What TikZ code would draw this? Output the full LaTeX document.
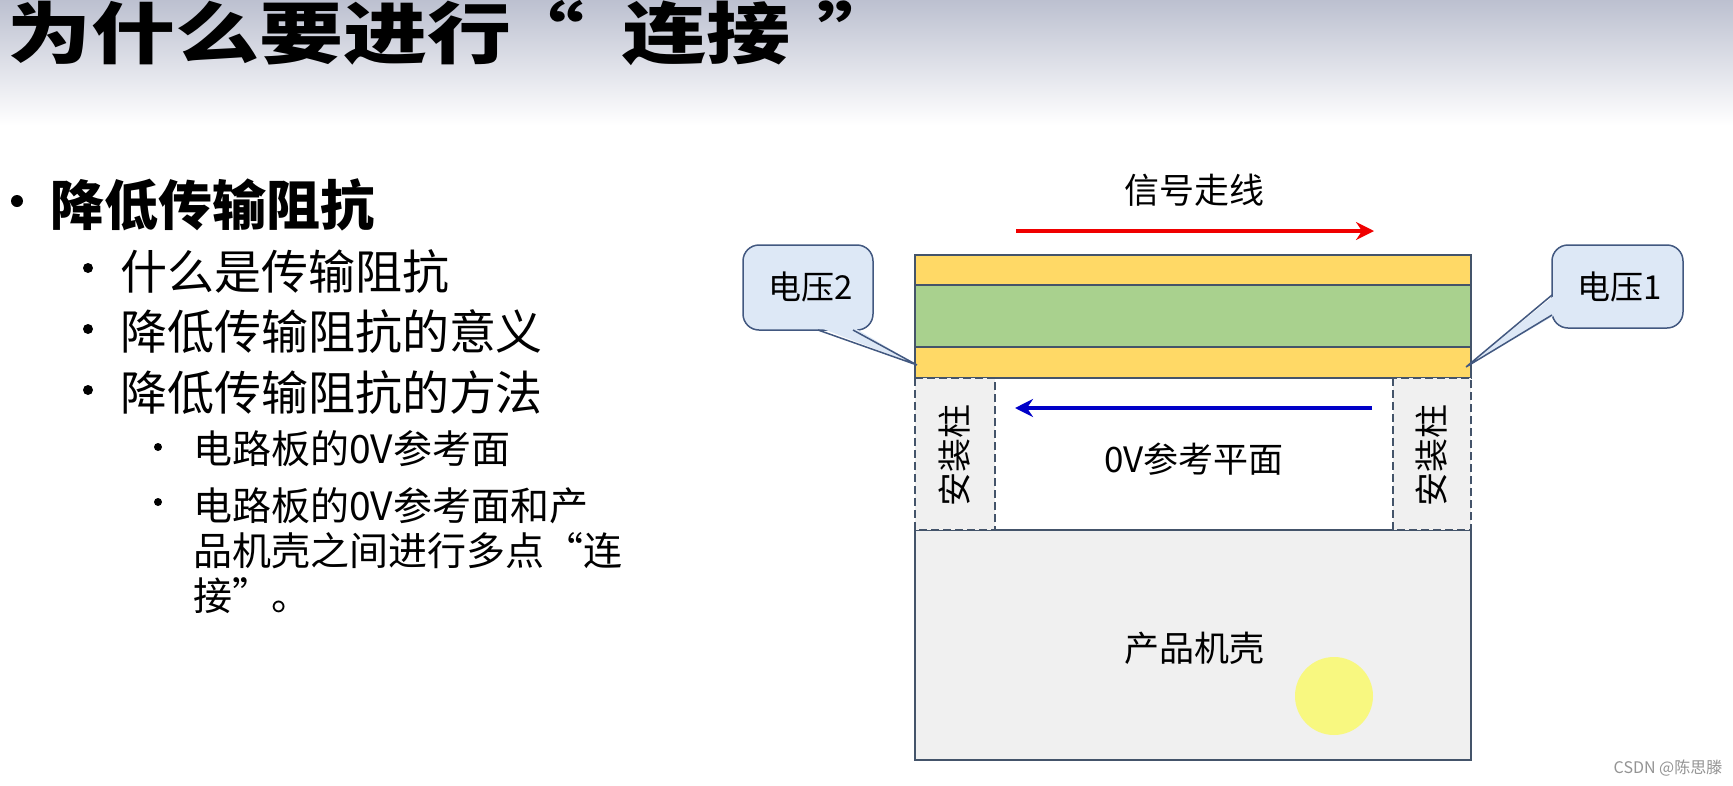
\documentclass[tikz,border=0pt]{standalone}
\usepackage{fontspec}
\setmainfont{Noto Sans CJK SC}
\usetikzlibrary{arrows.meta}
\definecolor{edgec}{RGB}{68,84,106}
\definecolor{layery}{RGB}{255,217,102}
\definecolor{layerg}{RGB}{169,209,142}
\definecolor{shell}{RGB}{240,240,240}
\definecolor{callfill}{RGB}{221,232,246}
\definecolor{callborder}{RGB}{66,88,128}
\definecolor{topgrad}{RGB}{188,192,208}
\definecolor{hilite}{RGB}{248,248,128}
\definecolor{sigred}{RGB}{240,0,0}
\definecolor{retblue}{RGB}{0,0,200}
\tikzset{
  txt/.style={inner sep=0pt, outer sep=0pt},
  layer/.style={draw=edgec, line width=1.8pt},
  post/.style={draw=edgec, dash pattern=on 8pt off 4pt, line width=1.2pt, fill=shell},
  callbox/.style={draw=callborder, line width=1.5pt, fill=callfill, rounded corners=16pt},
  calltail/.style={draw=callborder, line width=1.5pt, line join=miter},
  sig/.style={line width=4pt, -{Stealth[length=18pt,width=18pt,inset=6pt]}},
  titlef/.style={txt, anchor=base west, font=\fontsize{84}{90}\selectfont\bfseries},
}
\begin{document}
\begin{tikzpicture}[x=1pt,y=-1pt]
\useasboundingbox (0,0) rectangle (1733,785);
\fill[white] (0,0) rectangle (1733,785);
\shade[top color=topgrad, bottom color=white] (0,0) rectangle (1733,125);

% title
\node[titlef] (t1) at (8,58) {\scalebox{1}[0.8]{为什么要进行}};
\node[titlef] (t2) at (500,58) {\scalebox{1}[0.8]{“}};
\node[titlef] (t3) at (622,58) {\scalebox{1}[0.8]{连接}};
\node[titlef] (t4) at (817,58) {\scalebox{1}[0.8]{”}};

% bullets
\fill (17,201) circle (6);
\node[txt, anchor=west, font=\fontsize{54}{60}\selectfont\bfseries] (b1) at (50,205) {降低传输阻抗};
\fill (88,268) circle (5);
\fill (88,329) circle (5);
\fill (88,390) circle (5);
\node[txt, anchor=west, font=\fontsize{47}{54}\selectfont] (b2) at (120,272) {什么是传输阻抗};
\node[txt, anchor=west, font=\fontsize{47}{54}\selectfont] (b3) at (120,332) {降低传输阻抗的意义};
\node[txt, anchor=west, font=\fontsize{47}{54}\selectfont] (b4) at (120,393) {降低传输阻抗的方法};
\fill (158,447) circle (4);
\fill (158,502) circle (4);
\node[txt, anchor=west, font=\fontsize{39}{46}\selectfont] (c1) at (193,449) {电路板的0V参考面};
\node[txt, anchor=west, font=\fontsize{39}{46}\selectfont] (c2) at (193,506) {电路板的0V参考面和产};
\node[txt, anchor=west, font=\fontsize{39}{46}\selectfont] (c3) at (193,551) {品机壳之间进行多点“连};
\node[txt, anchor=west, font=\fontsize{39}{46}\selectfont] (c4) at (193,596) {接”。};

% board layers
\path[layer, fill=layery] (915,255) rectangle (1471,285);
\path[layer, fill=layerg] (915,285) rectangle (1471,347);
\path[layer, fill=layery] (915,347) rectangle (1471,378);
% shell
\path[layer, fill=shell] (915,530) rectangle (1471,760);
% posts
\path[post] (915,378) rectangle (995,530);
\path[post] (1393,378) rectangle (1471,530);
\draw[edgec, line width=1.8pt] (995,530) -- (1393,530);
\node[txt, rotate=90, font=\fontsize{34}{40}\selectfont] (p1) at (955,455) {安装柱};
\node[txt, rotate=90, font=\fontsize{34}{40}\selectfont] (p2) at (1432,455) {安装柱};

% labels
\node[txt, font=\fontsize{35}{42}\selectfont] (sigl) at (1194,190) {信号走线};
\node[txt, font=\fontsize{35}{42}\selectfont] (ovl) at (1194,459) {0V参考平面};
\node[txt, font=\fontsize{35}{42}\selectfont] (shl) at (1194,648) {产品机壳};

% arrows
\coordinate (r1) at (1016,231);
\coordinate (r2) at (1374,231);
\coordinate (u1) at (1372,408);
\coordinate (u2) at (1015,408);
\draw[sig, sigred] (r1) -- (r2);
\draw[sig, retblue] (u1) -- (u2);

% callout 2 (left)
\coordinate (tip2) at (917,365);
\coordinate (a2) at (818,330);
\coordinate (b2) at (853,330);
\path[callbox] (743,245) rectangle (873,330);
\fill[callfill] (818,327) -- (tip2) -- (853,327) -- cycle;
\draw[calltail] (a2) -- (tip2) -- (b2);
\node[txt, font=\fontsize{33}{40}\selectfont] (v2) at (811,287) {电压2};

% callout 1 (right)
\coordinate (tip1) at (1466,367);
\coordinate (a1) at (1552,295);
\coordinate (b1) at (1552,315);
\path[callbox] (1552,245) rectangle (1683,328);
\fill[callfill] (1555,295) -- (tip1) -- (1555,315) -- cycle;
\draw[calltail] (a1) -- (tip1) -- (b1);
\node[txt, font=\fontsize{33}{40}\selectfont] (v1) at (1620,287) {电压1};

% highlight
\fill[hilite] (1334,696) circle (39);

% watermark
\node[txt, text=black!42, font=\fontsize{16}{18}\selectfont] (wm) at (1668,768) {CSDN @陈思滕};
\end{tikzpicture}
\end{document}
